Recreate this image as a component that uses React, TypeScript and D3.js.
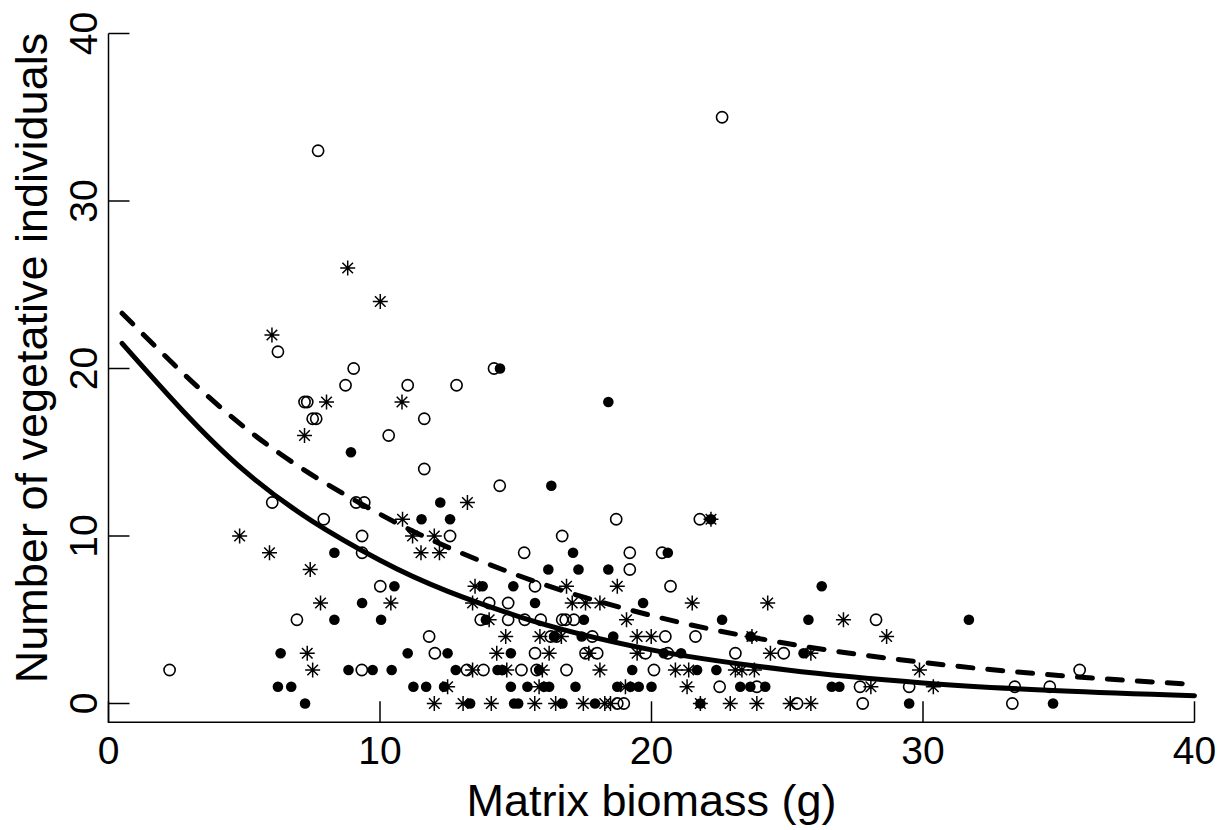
import React from "react";
import * as d3 from "d3";

// ---- data ----
// open circles: [biomass, count]
const openPoints: [number, number][] = [
  [22.6, 35], [7.72, 33], [6.24, 21], [9.03, 20], [14.2, 20],
  [8.73, 19], [11.02, 19], [12.82, 19], [7.22, 18], [7.32, 18],
  [7.52, 17], [7.65, 17], [11.63, 17], [10.32, 16], [11.63, 14], [14.41, 13],
  [6.03, 12], [9.12, 12], [9.42, 12], [7.93, 11], [18.7, 11], [21.78, 11],
  [9.34, 10], [12.58, 10], [16.71, 10],
  [9.34, 9], [15.31, 9], [19.2, 9], [20.39, 9], [19.2, 8],
  [10.01, 7], [15.71, 7], [20.7, 7], [14.02, 6], [14.72, 6],
  [6.94, 5], [13.71, 5], [14.72, 5], [15.33, 5], [15.92, 5], [16.71, 5], [16.84, 5], [17.14, 5], [28.27, 5],
  [11.81, 4], [16.29, 4], [16.5, 4], [17.82, 4], [20.51, 4], [21.62, 4],
  [12.02, 3], [15.71, 3], [17.57, 3], [18.0, 3], [19.78, 3], [20.6, 3], [23.09, 3], [24.87, 3],
  [2.25, 2], [9.33, 2], [13.2, 2], [13.81, 2], [15.21, 2], [15.77, 2], [16.87, 2], [20.09, 2], [35.77, 2],
  [22.51, 1], [23.88, 1], [27.68, 1], [29.49, 1], [33.38, 1], [34.67, 1],
  [18.74, 0], [18.98, 0], [25.36, 0], [27.78, 0], [33.29, 0],
];

// filled circles: [biomass, count]
const filledPoints: [number, number][] = [
  [14.42, 20], [18.41, 18], [8.93, 15], [16.31, 13], [12.22, 12],
  [11.53, 11], [12.58, 11], [22.19, 11],
  [8.32, 9], [17.11, 9], [20.6, 9], [16.2, 8], [17.31, 8], [18.41, 8],
  [10.53, 7], [13.78, 7], [14.91, 7], [26.27, 7], [9.34, 6], [15.71, 6], [19.69, 6],
  [8.32, 5], [10.04, 5], [13.9, 5], [17.51, 5], [22.6, 5], [25.78, 5], [31.69, 5],
  [16.41, 4], [17.43, 4], [18.59, 4], [23.65, 4],
  [6.34, 3], [11.02, 3], [12.49, 3], [14.82, 3], [20.45, 3], [21.09, 3], [25.6, 3],
  [8.84, 2], [9.73, 2], [10.43, 2], [12.79, 2], [14.33, 2], [14.51, 2], [15.86, 2], [19.29, 2], [21.68, 2], [22.39, 2],
  [6.24, 1], [6.73, 1], [11.23, 1], [11.7, 1], [12.36, 1], [14.82, 1], [15.43, 1], [16.04, 1], [16.23, 1], [17.2, 1],
  [18.74, 1], [19.23, 1], [19.53, 1], [20.0, 1], [23.27, 1], [23.64, 1], [24.19, 1], [26.64, 1], [26.92, 1],
  [7.24, 0], [13.32, 0], [14.94, 0], [15.09, 0], [16.72, 0], [17.92, 0], [21.8, 0], [29.49, 0], [34.79, 0],
];

// asterisks: [biomass, count]
const starPoints: [number, number][] = [
  [8.81, 26], [10.01, 24], [6.02, 22], [8.03, 18], [10.81, 18], [7.22, 16], [13.22, 12],
  [10.83, 11], [22.19, 11], [4.83, 10], [11.2, 10], [12.0, 10],
  [5.93, 9], [11.51, 9], [12.19, 9], [7.43, 8],
  [13.5, 7], [16.87, 7], [18.74, 7],
  [7.81, 6], [10.4, 6], [13.41, 6], [17.08, 6], [17.57, 6], [18.1, 6], [21.5, 6], [24.28, 6],
  [14.02, 5], [19.08, 5], [27.07, 5],
  [14.63, 4], [15.89, 4], [16.68, 4], [19.47, 4], [19.99, 4], [23.7, 4], [28.66, 4],
  [7.32, 3], [14.3, 3], [16.23, 3], [17.69, 3], [19.47, 3], [24.38, 3], [25.87, 3],
  [7.52, 2], [13.41, 2], [14.67, 2], [15.98, 2], [18.1, 2], [20.88, 2], [21.37, 2], [23.09, 2], [23.33, 2], [23.79, 2], [29.87, 2],
  [12.49, 1], [15.86, 1], [19.04, 1], [21.31, 1], [28.08, 1], [30.38, 1],
  [12.0, 0], [13.06, 0], [14.1, 0], [15.7, 0], [16.47, 0], [17.49, 0], [18.28, 0], [18.49, 0],
  [21.8, 0], [22.9, 0], [23.88, 0], [25.11, 0], [25.87, 0],
];

// fitted curves read at sample biomass values
const curveX = [0.5, 5, 10, 15, 20, 25, 30, 35, 40];
const solidCurveY = [21.5, 13.9, 8.55, 5.25, 3.2, 2.0, 1.23, 0.76, 0.47];
const dashedCurveY = [23.3, 16.5, 11.3, 7.7, 5.25, 3.58, 2.45, 1.67, 1.14];

const xTicks = [0, 10, 20, 30, 40];
const yTicks = [0, 10, 20, 30, 40];
const xTitle = "Matrix biomass (g)";
const yTitle = "Number of vegetative individuals";

export default function App() {
  const W = 1229;
  const H = 830;
  const x = d3.scaleLinear().domain([0, 40]).range([108.5, 1194.5]);
  const y = d3.scaleLinear().domain([0, 40]).range([703.5, 33.5]);
  const boxBottom = 722.3;
  const font = "'Liberation Sans', Arial, Helvetica, sans-serif";

  const line = d3
    .line<number>()
    .x((_, i) => x(curveX[i]))
    .y((d) => y(d))
    .curve(d3.curveMonotoneX);

  const tick = 21;
  const ps = 7.5; // plus arm half length
  const xs = 5.3; // cross arm half extent

  return (
    <svg
      width={W}
      height={H}
      viewBox={`0 0 ${W} ${H}`}
      style={{ position: "absolute", left: 0, top: 0, background: "#fff" }}
    >
      <rect x={0} y={0} width={W} height={H} fill="#fff" />
      {/* L box / axes */}
      <path
        d={`M${x(0)},${y(40)} L${x(0)},${boxBottom} L${x(40)},${boxBottom}`}
        fill="none"
        stroke="#000"
        strokeWidth={1.5}
      />
      {yTicks.map((t) => (
        <g key={"yt" + t}>
          <line x1={x(0)} x2={x(0) + tick} y1={y(t)} y2={y(t)} stroke="#000" strokeWidth={1.5} />
          <text
            transform={`translate(97,${y(t)}) rotate(-90)`}
            textAnchor="middle"
            fontFamily={font}
            fontSize={39}
            fill="#000"
          >
            {t}
          </text>
        </g>
      ))}
      {xTicks.map((t) => (
        <g key={"xt" + t}>
          <line x1={x(t)} x2={x(t)} y1={boxBottom} y2={boxBottom - tick} stroke="#000" strokeWidth={1.5} />
          <text x={x(t)} y={763.5} textAnchor="middle" fontFamily={font} fontSize={39} fill="#000">
            {t}
          </text>
        </g>
      ))}
      <text x={x(20)} y={816} textAnchor="middle" fontFamily={font} fontSize={45} fill="#000">
        {xTitle}
      </text>
      <text
        transform={`translate(47,358) rotate(-90)`}
        textAnchor="middle"
        fontFamily={font}
        fontSize={45}
        fill="#000"
      >
        {yTitle}
      </text>

      {/* points */}
      {openPoints.map(([a, b], i) => (
        <circle key={"o" + i} cx={x(a)} cy={y(b)} r={5.6} fill="none" stroke="#000" strokeWidth={1.6} />
      ))}
      {filledPoints.map(([a, b], i) => (
        <circle key={"f" + i} cx={x(a)} cy={y(b)} r={5.3} fill="#000" />
      ))}
      {starPoints.map(([a, b], i) => {
        const cx = x(a);
        const cy = y(b);
        return (
          <path
            key={"s" + i}
            d={`M${cx - ps},${cy}L${cx + ps},${cy}M${cx},${cy - ps}L${cx},${cy + ps}M${cx - xs},${cy - xs}L${cx + xs},${cy + xs}M${cx - xs},${cy + xs}L${cx + xs},${cy - xs}`}
            stroke="#000"
            strokeWidth={1.5}
            fill="none"
          />
        );
      })}

      {/* fitted curves */}
      <path d={line(solidCurveY) || ""} fill="none" stroke="#000" strokeWidth={5} strokeLinecap="round" />
      <path
        d={line(dashedCurveY) || ""}
        fill="none"
        stroke="#000"
        strokeWidth={5}
        strokeLinecap="round"
        strokeDasharray="15,15"
      />
    </svg>
  );
}
